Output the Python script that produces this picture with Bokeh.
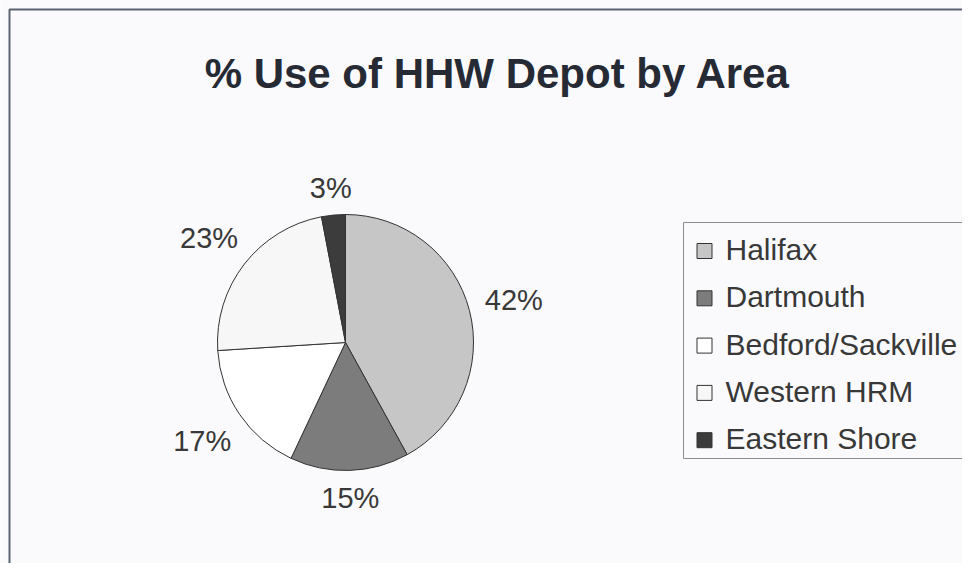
import math
from bokeh.plotting import figure
from bokeh.models import Range1d, ColumnDataSource
from bokeh.core.properties import value
from bokeh.embed import file_html
from bokeh.resources import INLINE

# ---- data ----
title_text = "% Use of HHW Depot by Area"
areas = ["Halifax", "Dartmouth", "Bedford/Sackville", "Western HRM", "Eastern Shore"]
shares = [42, 15, 17, 23, 3]
colors = ["#c6c6c6", "#7c7c7c", "#ffffff", "#f7f7f7", "#3c3c3c"]

# ---- layout (pixels; data y = -pixel y) ----
W, H = 962, 563
FONT = "Liberation Sans"
BG = "#fafafc"

p = figure(width=W, height=H, x_range=Range1d(0, W), y_range=Range1d(-H, 0),
           output_backend="svg", toolbar_location=None, min_border=0,
           x_axis_type=None, y_axis_type=None)
p.outline_line_color = None
p.background_fill_color = BG
p.border_fill_color = BG

# outer chart border (top and left visible)
p.line(x=[9, 9, 975], y=[-575, -9, -9], line_color="#5c6472", line_width=2)

# title
p.text(x=[497], y=[-73], text=[title_text], text_font=value(FONT), text_font_style="bold",
       text_font_size="42px", text_color="#262a35", text_align="center", text_baseline="alphabetic")

# pie
cx, cy, R = 345, -342, 128
total = float(sum(shares))
starts, ends, mids = [], [], []
c = 0.0
for s in shares:
    a0 = math.pi / 2 - 2 * math.pi * c / total
    c += s
    a1 = math.pi / 2 - 2 * math.pi * c / total
    starts.append(a0)
    ends.append(a1)
    mids.append((a0 + a1) / 2)

src = ColumnDataSource(dict(start=starts, end=ends, color=colors, area=areas, share=shares))
p.wedge(x=cx, y=cy, radius=R, start_angle="start", end_angle="end", direction="clock",
        fill_color="color", line_color="#333333", line_width=1, source=src)

# percentage labels outside slices
LBL = 29
lx, ly, lt = [], [], []
for s, m in zip(shares, mids):
    t = f"{s}%"
    hw = 0.5 * LBL * (0.556 * (len(t) - 1) + 0.889)
    hh = 11
    d = R + 15 + abs(math.cos(m)) * hw + abs(math.sin(m)) * hh
    lx.append(cx + d * math.cos(m))
    ly.append(cy + d * math.sin(m) - 1)
    lt.append(t)
p.text(x=lx, y=ly, text=lt, text_font=value(FONT), text_font_size=f"{LBL}px",
       text_color="#383838", text_align="center", text_baseline="middle")

# legend (drawn from the category list)
leg_left, leg_top, leg_bottom = 683, -222, -458
p.line(x=[1000, leg_left, leg_left, 1000], y=[leg_top, leg_top, leg_bottom, leg_bottom],
       line_color="#8c8c8c", line_width=1)
row0, pitch = 249, 47.3
ry = [-(row0 + i * pitch) for i in range(len(areas))]
p.rect(x=[704] * len(areas), y=[y - 1.5 for y in ry], width=15, height=15,
       fill_color=colors, line_color="#333333", line_width=1)
p.text(x=[725] * len(areas), y=ry, text=areas, text_font=value(FONT), text_font_size="30px",
       text_color="#383838", text_align="left", text_baseline="middle")

open("out.html", "w").write(file_html(p, INLINE))
